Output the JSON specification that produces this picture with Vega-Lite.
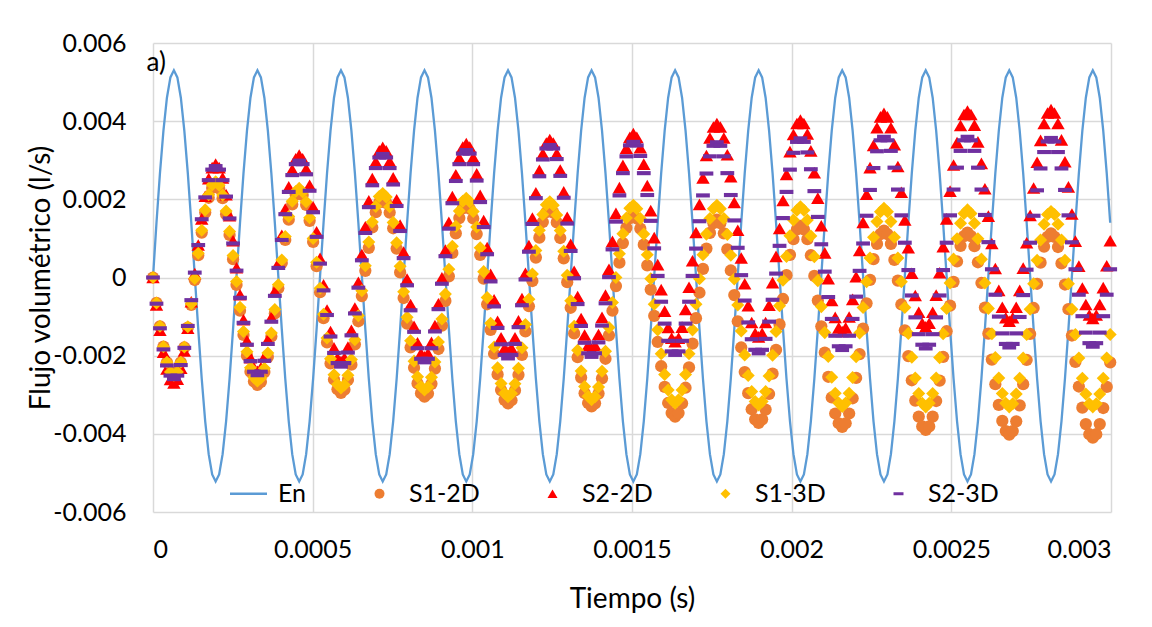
{
"$schema": "https://vega.github.io/schema/vega-lite/v6.json",
"width": 958, "height": 469,
"autosize": {"type": "none"},
"padding": {"left": 153, "top": 43, "right": 41, "bottom": 115},
"background": "white",
"config": {
"locale": {"number": {"decimal": ".", "thousands": ",", "grouping": [3], "currency": ["", ""], "minus": "-"}},
"font": "Lato",
"view": {"stroke": null},
"axis": {"grid": true, "gridColor": "#D9D9D9", "gridWidth": 1.5, "domain": false, "ticks": false, "tickSize": 0, "labelFont": "Lato", "labelFontSize": 25, "labelColor": "#000000", "titleFont": "Lato", "titleFontSize": 28, "titleFontWeight": "normal", "titleColor": "#000000"}
},
"datasets": {"main": [
{"t":0,"e":0,"o":0,"r":0,"y":0,"p":0},
{"t":109e-7,"e":1400e-6,"o":-650e-6,"r":-700e-6,"y":-650e-6,"p":-670e-6},
{"t":218e-7,"e":2670e-6,"o":-1250e-6,"r":-1350e-6,"y":-1250e-6,"p":-1300e-6},
{"t":327e-7,"e":3760e-6,"o":-1770e-6,"r":-1910e-6,"y":-1770e-6,"p":-1840e-6},
{"t":436e-7,"e":4600e-6,"o":-2170e-6,"r":-2340e-6,"y":-2170e-6,"p":-2250e-6},
{"t":545e-7,"e":5120e-6,"o":-2420e-6,"r":-2610e-6,"y":-2420e-6,"p":-2510e-6},
{"t":654e-7,"e":5300e-6,"o":-2500e-6,"r":-2700e-6,"y":-2500e-6,"p":-2600e-6},
{"t":763e-7,"e":5120e-6,"o":-2420e-6,"r":-2600e-6,"y":-2420e-6,"p":-2510e-6},
{"t":872e-7,"e":4600e-6,"o":-2170e-6,"r":-2320e-6,"y":-2170e-6,"p":-2240e-6},
{"t":981e-7,"e":3760e-6,"o":-1790e-6,"r":-1880e-6,"y":-1780e-6,"p":-1800e-6},
{"t":1090e-7,"e":2670e-6,"o":-1280e-6,"r":-1300e-6,"y":-1260e-6,"p":-1240e-6},
{"t":1199e-7,"e":1400e-6,"o":-700e-6,"r":-620e-6,"y":-670e-6,"p":-580e-6},
{"t":1308e-7,"e":40e-6,"o":-65e-6,"r":100e-6,"y":-25e-6,"p":125e-6},
{"t":1417e-7,"e":-1320e-6,"o":570e-6,"r":830e-6,"y":620e-6,"p":830e-6},
{"t":1526e-7,"e":-2590e-6,"o":1150e-6,"r":1500e-6,"y":1210e-6,"p":1490e-6},
{"t":1635e-7,"e":-3680e-6,"o":1660e-6,"r":2080e-6,"y":1730e-6,"p":2050e-6},
{"t":1744e-7,"e":-4520e-6,"o":2040e-6,"r":2530e-6,"y":2120e-6,"p":2490e-6},
{"t":1853e-7,"e":-5040e-6,"o":2290e-6,"r":2810e-6,"y":2370e-6,"p":2760e-6},
{"t":1962e-7,"e":-5220e-6,"o":2370e-6,"r":2900e-6,"y":2450e-6,"p":2850e-6},
{"t":2071e-7,"e":-5040e-6,"o":2280e-6,"r":2810e-6,"y":2360e-6,"p":2760e-6},
{"t":2180e-7,"e":-4520e-6,"o":2030e-6,"r":2550e-6,"y":2110e-6,"p":2490e-6},
{"t":2289e-7,"e":-3680e-6,"o":1620e-6,"r":2120e-6,"y":1700e-6,"p":2070e-6},
{"t":2398e-7,"e":-2590e-6,"o":1090e-6,"r":1580e-6,"y":1180e-6,"p":1510e-6},
{"t":2507e-7,"e":-1320e-6,"o":470e-6,"r":940e-6,"y":560e-6,"p":870e-6},
{"t":2616e-7,"e":40e-6,"o":-190e-6,"r":250e-6,"y":-100e-6,"p":175e-6},
{"t":2725e-7,"e":1400e-6,"o":-850e-6,"r":-440e-6,"y":-760e-6,"p":-520e-6},
{"t":2834e-7,"e":2670e-6,"o":-1470e-6,"r":-1080e-6,"y":-1380e-6,"p":-1160e-6},
{"t":2943e-7,"e":3760e-6,"o":-2000e-6,"r":-1620e-6,"y":-1900e-6,"p":-1720e-6},
{"t":3052e-7,"e":4600e-6,"o":-2410e-6,"r":-2050e-6,"y":-2310e-6,"p":-2140e-6},
{"t":3161e-7,"e":5120e-6,"o":-2660e-6,"r":-2310e-6,"y":-2560e-6,"p":-2410e-6},
{"t":3270e-7,"e":5300e-6,"o":-2750e-6,"r":-2400e-6,"y":-2650e-6,"p":-2500e-6},
{"t":3379e-7,"e":5120e-6,"o":-2670e-6,"r":-2310e-6,"y":-2570e-6,"p":-2410e-6},
{"t":3488e-7,"e":4600e-6,"o":-2420e-6,"r":-2030e-6,"y":-2320e-6,"p":-2130e-6},
{"t":3597e-7,"e":3760e-6,"o":-2030e-6,"r":-1590e-6,"y":-1930e-6,"p":-1700e-6},
{"t":3706e-7,"e":2670e-6,"o":-1510e-6,"r":-1020e-6,"y":-1420e-6,"p":-1130e-6},
{"t":3815e-7,"e":1400e-6,"o":-920e-6,"r":-350e-6,"y":-820e-6,"p":-470e-6},
{"t":3924e-7,"e":40e-6,"o":-275e-6,"r":365e-6,"y":-185e-6,"p":245e-6},
{"t":4033e-7,"e":-1320e-6,"o":370e-6,"r":1080e-6,"y":450e-6,"p":960e-6},
{"t":4142e-7,"e":-2590e-6,"o":960e-6,"r":1750e-6,"y":1050e-6,"p":1620e-6},
{"t":4251e-7,"e":-3680e-6,"o":1480e-6,"r":2320e-6,"y":1560e-6,"p":2190e-6},
{"t":4360e-7,"e":-4520e-6,"o":1870e-6,"r":2760e-6,"y":1950e-6,"p":2620e-6},
{"t":4469e-7,"e":-5040e-6,"o":2120e-6,"r":3040e-6,"y":2200e-6,"p":2900e-6},
{"t":4578e-7,"e":-5220e-6,"o":2200e-6,"r":3130e-6,"y":2280e-6,"p":2990e-6},
{"t":4687e-7,"e":-5040e-6,"o":2110e-6,"r":3040e-6,"y":2190e-6,"p":2900e-6},
{"t":4796e-7,"e":-4520e-6,"o":1860e-6,"r":2780e-6,"y":1940e-6,"p":2640e-6},
{"t":4905e-7,"e":-3680e-6,"o":1450e-6,"r":2360e-6,"y":1530e-6,"p":2220e-6},
{"t":5014e-7,"e":-2590e-6,"o":910e-6,"r":1810e-6,"y":1000e-6,"p":1670e-6},
{"t":5123e-7,"e":-1320e-6,"o":290e-6,"r":1170e-6,"y":390e-6,"p":1040e-6},
{"t":5232e-7,"e":40e-6,"o":-375e-6,"r":490e-6,"y":-275e-6,"p":355e-6},
{"t":5341e-7,"e":1400e-6,"o":-1040e-6,"r":-190e-6,"y":-940e-6,"p":-330e-6},
{"t":5450e-7,"e":2670e-6,"o":-1660e-6,"r":-830e-6,"y":-1550e-6,"p":-960e-6},
{"t":5559e-7,"e":3760e-6,"o":-2200e-6,"r":-1380e-6,"y":-2080e-6,"p":-1510e-6},
{"t":5668e-7,"e":4600e-6,"o":-2610e-6,"r":-1800e-6,"y":-2490e-6,"p":-1930e-6},
{"t":5777e-7,"e":5120e-6,"o":-2860e-6,"r":-2060e-6,"y":-2740e-6,"p":-2190e-6},
{"t":5886e-7,"e":5300e-6,"o":-2950e-6,"r":-2150e-6,"y":-2830e-6,"p":-2280e-6},
{"t":5995e-7,"e":5120e-6,"o":-2870e-6,"r":-2060e-6,"y":-2750e-6,"p":-2190e-6},
{"t":6104e-7,"e":4600e-6,"o":-2620e-6,"r":-1780e-6,"y":-2500e-6,"p":-1920e-6},
{"t":6213e-7,"e":3760e-6,"o":-2230e-6,"r":-1350e-6,"y":-2100e-6,"p":-1480e-6},
{"t":6322e-7,"e":2670e-6,"o":-1710e-6,"r":-780e-6,"y":-1590e-6,"p":-920e-6},
{"t":6431e-7,"e":1400e-6,"o":-1120e-6,"r":-120e-6,"y":-980e-6,"p":-260e-6},
{"t":6540e-7,"e":40e-6,"o":-475e-6,"r":590e-6,"y":-340e-6,"p":440e-6},
{"t":6649e-7,"e":-1320e-6,"o":170e-6,"r":1300e-6,"y":300e-6,"p":1140e-6},
{"t":6758e-7,"e":-2590e-6,"o":760e-6,"r":1960e-6,"y":910e-6,"p":1800e-6},
{"t":6867e-7,"e":-3680e-6,"o":1280e-6,"r":2530e-6,"y":1420e-6,"p":2360e-6},
{"t":6976e-7,"e":-4520e-6,"o":1670e-6,"r":2960e-6,"y":1820e-6,"p":2800e-6},
{"t":7085e-7,"e":-5040e-6,"o":1920e-6,"r":3240e-6,"y":2070e-6,"p":3070e-6},
{"t":7194e-7,"e":-5220e-6,"o":2000e-6,"r":3330e-6,"y":2150e-6,"p":3160e-6},
{"t":7303e-7,"e":-5040e-6,"o":1910e-6,"r":3240e-6,"y":2060e-6,"p":3070e-6},
{"t":7412e-7,"e":-4520e-6,"o":1660e-6,"r":2970e-6,"y":1810e-6,"p":2800e-6},
{"t":7521e-7,"e":-3680e-6,"o":1260e-6,"r":2550e-6,"y":1410e-6,"p":2380e-6},
{"t":7630e-7,"e":-2590e-6,"o":740e-6,"r":1990e-6,"y":890e-6,"p":1830e-6},
{"t":7739e-7,"e":-1320e-6,"o":130e-6,"r":1340e-6,"y":290e-6,"p":1190e-6},
{"t":7848e-7,"e":40e-6,"o":-525e-6,"r":650e-6,"y":-365e-6,"p":495e-6},
{"t":7957e-7,"e":1400e-6,"o":-1180e-6,"r":-40e-6,"y":-1020e-6,"p":-200e-6},
{"t":8066e-7,"e":2670e-6,"o":-1790e-6,"r":-690e-6,"y":-1620e-6,"p":-840e-6},
{"t":8175e-7,"e":3760e-6,"o":-2310e-6,"r":-1250e-6,"y":-2140e-6,"p":-1390e-6},
{"t":8284e-7,"e":4600e-6,"o":-2710e-6,"r":-1670e-6,"y":-2540e-6,"p":-1810e-6},
{"t":8393e-7,"e":5120e-6,"o":-2960e-6,"r":-1940e-6,"y":-2790e-6,"p":-2080e-6},
{"t":8502e-7,"e":5300e-6,"o":-3050e-6,"r":-2030e-6,"y":-2880e-6,"p":-2170e-6},
{"t":8611e-7,"e":5120e-6,"o":-2970e-6,"r":-1940e-6,"y":-2800e-6,"p":-2080e-6},
{"t":8720e-7,"e":4600e-6,"o":-2720e-6,"r":-1660e-6,"y":-2550e-6,"p":-1810e-6},
{"t":8829e-7,"e":3760e-6,"o":-2330e-6,"r":-1230e-6,"y":-2160e-6,"p":-1380e-6},
{"t":8938e-7,"e":2670e-6,"o":-1830e-6,"r":-670e-6,"y":-1650e-6,"p":-810e-6},
{"t":9047e-7,"e":1400e-6,"o":-1230e-6,"r":-10e-6,"y":-1060e-6,"p":-160e-6},
{"t":9156e-7,"e":40e-6,"o":-600e-6,"r":700e-6,"y":-425e-6,"p":545e-6},
{"t":9265e-7,"e":-1320e-6,"o":30e-6,"r":1410e-6,"y":210e-6,"p":1250e-6},
{"t":9374e-7,"e":-2590e-6,"o":630e-6,"r":2070e-6,"y":800e-6,"p":1900e-6},
{"t":9483e-7,"e":-3680e-6,"o":1130e-6,"r":2630e-6,"y":1310e-6,"p":2470e-6},
{"t":9592e-7,"e":-4520e-6,"o":1520e-6,"r":3060e-6,"y":1700e-6,"p":2900e-6},
{"t":9701e-7,"e":-5040e-6,"o":1770e-6,"r":3340e-6,"y":1950e-6,"p":3170e-6},
{"t":9810e-7,"e":-5220e-6,"o":1850e-6,"r":3430e-6,"y":2030e-6,"p":3260e-6},
{"t":9919e-7,"e":-5040e-6,"o":1760e-6,"r":3340e-6,"y":1940e-6,"p":3170e-6},
{"t":10028e-7,"e":-4520e-6,"o":1510e-6,"r":3070e-6,"y":1690e-6,"p":2900e-6},
{"t":10137e-7,"e":-3680e-6,"o":1110e-6,"r":2650e-6,"y":1290e-6,"p":2480e-6},
{"t":10246e-7,"e":-2590e-6,"o":580e-6,"r":2100e-6,"y":760e-6,"p":1930e-6},
{"t":10355e-7,"e":-1320e-6,"o":-30e-6,"r":1460e-6,"y":150e-6,"p":1290e-6},
{"t":10464e-7,"e":40e-6,"o":-685e-6,"r":765e-6,"y":-510e-6,"p":595e-6},
{"t":10573e-7,"e":1400e-6,"o":-1340e-6,"r":80e-6,"y":-1170e-6,"p":-100e-6},
{"t":10682e-7,"e":2670e-6,"o":-1950e-6,"r":-570e-6,"y":-1780e-6,"p":-740e-6},
{"t":10791e-7,"e":3760e-6,"o":-2480e-6,"r":-1120e-6,"y":-2310e-6,"p":-1290e-6},
{"t":10900e-7,"e":4600e-6,"o":-2880e-6,"r":-1540e-6,"y":-2710e-6,"p":-1710e-6},
{"t":11009e-7,"e":5120e-6,"o":-3130e-6,"r":-1810e-6,"y":-2960e-6,"p":-1980e-6},
{"t":11118e-7,"e":5300e-6,"o":-3220e-6,"r":-1900e-6,"y":-3050e-6,"p":-2070e-6},
{"t":11227e-7,"e":5120e-6,"o":-3140e-6,"r":-1810e-6,"y":-2970e-6,"p":-1980e-6},
{"t":11336e-7,"e":4600e-6,"o":-2890e-6,"r":-1540e-6,"y":-2720e-6,"p":-1700e-6},
{"t":11445e-7,"e":3760e-6,"o":-2490e-6,"r":-1110e-6,"y":-2320e-6,"p":-1270e-6},
{"t":11554e-7,"e":2670e-6,"o":-1980e-6,"r":-540e-6,"y":-1800e-6,"p":-710e-6},
{"t":11663e-7,"e":1400e-6,"o":-1380e-6,"r":110e-6,"y":-1200e-6,"p":-50e-6},
{"t":11772e-7,"e":40e-6,"o":-735e-6,"r":815e-6,"y":-555e-6,"p":660e-6},
{"t":11881e-7,"e":-1320e-6,"o":-90e-6,"r":1520e-6,"y":90e-6,"p":1370e-6},
{"t":11990e-7,"e":-2590e-6,"o":510e-6,"r":2170e-6,"y":690e-6,"p":2030e-6},
{"t":12099e-7,"e":-3680e-6,"o":1020e-6,"r":2740e-6,"y":1210e-6,"p":2590e-6},
{"t":12208e-7,"e":-4520e-6,"o":1420e-6,"r":3170e-6,"y":1610e-6,"p":3020e-6},
{"t":12317e-7,"e":-5040e-6,"o":1670e-6,"r":3440e-6,"y":1860e-6,"p":3300e-6},
{"t":12426e-7,"e":-5220e-6,"o":1750e-6,"r":3530e-6,"y":1940e-6,"p":3390e-6},
{"t":12535e-7,"e":-5040e-6,"o":1660e-6,"r":3440e-6,"y":1850e-6,"p":3300e-6},
{"t":12644e-7,"e":-4520e-6,"o":1410e-6,"r":3170e-6,"y":1600e-6,"p":3030e-6},
{"t":12753e-7,"e":-3680e-6,"o":1010e-6,"r":2750e-6,"y":1200e-6,"p":2600e-6},
{"t":12862e-7,"e":-2590e-6,"o":490e-6,"r":2190e-6,"y":670e-6,"p":2040e-6},
{"t":12971e-7,"e":-1320e-6,"o":-120e-6,"r":1540e-6,"y":60e-6,"p":1380e-6},
{"t":13080e-7,"e":40e-6,"o":-775e-6,"r":850e-6,"y":-595e-6,"p":680e-6},
{"t":13189e-7,"e":1400e-6,"o":-1430e-6,"r":160e-6,"y":-1250e-6,"p":-20e-6},
{"t":13298e-7,"e":2670e-6,"o":-2040e-6,"r":-490e-6,"y":-1860e-6,"p":-680e-6},
{"t":13407e-7,"e":3760e-6,"o":-2560e-6,"r":-1050e-6,"y":-2390e-6,"p":-1240e-6},
{"t":13516e-7,"e":4600e-6,"o":-2960e-6,"r":-1470e-6,"y":-2790e-6,"p":-1670e-6},
{"t":13625e-7,"e":5120e-6,"o":-3210e-6,"r":-1740e-6,"y":-3040e-6,"p":-1940e-6},
{"t":13734e-7,"e":5300e-6,"o":-3300e-6,"r":-1830e-6,"y":-3130e-6,"p":-2030e-6},
{"t":13843e-7,"e":5120e-6,"o":-3220e-6,"r":-1740e-6,"y":-3050e-6,"p":-1940e-6},
{"t":13952e-7,"e":4600e-6,"o":-2970e-6,"r":-1460e-6,"y":-2800e-6,"p":-1660e-6},
{"t":14061e-7,"e":3760e-6,"o":-2580e-6,"r":-1020e-6,"y":-2400e-6,"p":-1230e-6},
{"t":14170e-7,"e":2670e-6,"o":-2080e-6,"r":-450e-6,"y":-1890e-6,"p":-660e-6},
{"t":14279e-7,"e":1400e-6,"o":-1480e-6,"r":210e-6,"y":-1280e-6,"p":10e-6},
{"t":14388e-7,"e":40e-6,"o":-850e-6,"r":925e-6,"y":-640e-6,"p":720e-6},
{"t":14497e-7,"e":-1320e-6,"o":-220e-6,"r":1640e-6,"y":0,"p":1430e-6},
{"t":14606e-7,"e":-2590e-6,"o":380e-6,"r":2300e-6,"y":610e-6,"p":2100e-6},
{"t":14715e-7,"e":-3680e-6,"o":880e-6,"r":2870e-6,"y":1120e-6,"p":2670e-6},
{"t":14824e-7,"e":-4520e-6,"o":1270e-6,"r":3310e-6,"y":1520e-6,"p":3100e-6},
{"t":14933e-7,"e":-5040e-6,"o":1520e-6,"r":3590e-6,"y":1770e-6,"p":3380e-6},
{"t":15042e-7,"e":-5220e-6,"o":1600e-6,"r":3680e-6,"y":1850e-6,"p":3470e-6},
{"t":15151e-7,"e":-5040e-6,"o":1510e-6,"r":3590e-6,"y":1760e-6,"p":3380e-6},
{"t":15260e-7,"e":-4520e-6,"o":1250e-6,"r":3320e-6,"y":1510e-6,"p":3110e-6},
{"t":15369e-7,"e":-3680e-6,"o":840e-6,"r":2900e-6,"y":1110e-6,"p":2670e-6},
{"t":15478e-7,"e":-2590e-6,"o":310e-6,"r":2350e-6,"y":580e-6,"p":2110e-6},
{"t":15587e-7,"e":-1320e-6,"o":-310e-6,"r":1710e-6,"y":-30e-6,"p":1450e-6},
{"t":15696e-7,"e":40e-6,"o":-980e-6,"r":1020e-6,"y":-685e-6,"p":745e-6},
{"t":15805e-7,"e":1400e-6,"o":-1650e-6,"r":330e-6,"y":-1340e-6,"p":40e-6},
{"t":15914e-7,"e":2670e-6,"o":-2270e-6,"r":-310e-6,"y":-1950e-6,"p":-620e-6},
{"t":16023e-7,"e":3760e-6,"o":-2800e-6,"r":-860e-6,"y":-2480e-6,"p":-1180e-6},
{"t":16132e-7,"e":4600e-6,"o":-3210e-6,"r":-1280e-6,"y":-2880e-6,"p":-1620e-6},
{"t":16241e-7,"e":5120e-6,"o":-3470e-6,"r":-1550e-6,"y":-3130e-6,"p":-1890e-6},
{"t":16350e-7,"e":5300e-6,"o":-3560e-6,"r":-1640e-6,"y":-3220e-6,"p":-1980e-6},
{"t":16459e-7,"e":5120e-6,"o":-3470e-6,"r":-1550e-6,"y":-3130e-6,"p":-1890e-6},
{"t":16568e-7,"e":4600e-6,"o":-3220e-6,"r":-1270e-6,"y":-2880e-6,"p":-1620e-6},
{"t":16677e-7,"e":3760e-6,"o":-2820e-6,"r":-820e-6,"y":-2480e-6,"p":-1180e-6},
{"t":16786e-7,"e":2670e-6,"o":-2300e-6,"r":-250e-6,"y":-1950e-6,"p":-620e-6},
{"t":16895e-7,"e":1400e-6,"o":-1690e-6,"r":430e-6,"y":-1340e-6,"p":40e-6},
{"t":17004e-7,"e":40e-6,"o":-1040e-6,"r":1150e-6,"y":-685e-6,"p":740e-6},
{"t":17113e-7,"e":-1320e-6,"o":-390e-6,"r":1870e-6,"y":-30e-6,"p":1440e-6},
{"t":17222e-7,"e":-2590e-6,"o":220e-6,"r":2550e-6,"y":580e-6,"p":2100e-6},
{"t":17331e-7,"e":-3680e-6,"o":740e-6,"r":3120e-6,"y":1110e-6,"p":2660e-6},
{"t":17440e-7,"e":-4520e-6,"o":1140e-6,"r":3570e-6,"y":1510e-6,"p":3100e-6},
{"t":17549e-7,"e":-5040e-6,"o":1390e-6,"r":3850e-6,"y":1760e-6,"p":3370e-6},
{"t":17658e-7,"e":-5220e-6,"o":1480e-6,"r":3940e-6,"y":1850e-6,"p":3460e-6},
{"t":17767e-7,"e":-5040e-6,"o":1390e-6,"r":3850e-6,"y":1760e-6,"p":3370e-6},
{"t":17876e-7,"e":-4520e-6,"o":1130e-6,"r":3570e-6,"y":1510e-6,"p":3100e-6},
{"t":17985e-7,"e":-3680e-6,"o":720e-6,"r":3140e-6,"y":1100e-6,"p":2670e-6},
{"t":18094e-7,"e":-2590e-6,"o":180e-6,"r":2580e-6,"y":570e-6,"p":2110e-6},
{"t":18203e-7,"e":-1320e-6,"o":-450e-6,"r":1920e-6,"y":-40e-6,"p":1460e-6},
{"t":18312e-7,"e":40e-6,"o":-1120e-6,"r":1210e-6,"y":-705e-6,"p":760e-6},
{"t":18421e-7,"e":1400e-6,"o":-1790e-6,"r":500e-6,"y":-1370e-6,"p":60e-6},
{"t":18530e-7,"e":2670e-6,"o":-2420e-6,"r":-160e-6,"y":-1980e-6,"p":-590e-6},
{"t":18639e-7,"e":3760e-6,"o":-2960e-6,"r":-720e-6,"y":-2510e-6,"p":-1150e-6},
{"t":18748e-7,"e":4600e-6,"o":-3370e-6,"r":-1150e-6,"y":-2920e-6,"p":-1580e-6},
{"t":18857e-7,"e":5120e-6,"o":-3630e-6,"r":-1430e-6,"y":-3170e-6,"p":-1850e-6},
{"t":18966e-7,"e":5300e-6,"o":-3720e-6,"r":-1520e-6,"y":-3260e-6,"p":-1940e-6},
{"t":19075e-7,"e":5120e-6,"o":-3630e-6,"r":-1430e-6,"y":-3170e-6,"p":-1850e-6},
{"t":19184e-7,"e":4600e-6,"o":-3380e-6,"r":-1150e-6,"y":-2920e-6,"p":-1570e-6},
{"t":19293e-7,"e":3760e-6,"o":-2980e-6,"r":-710e-6,"y":-2520e-6,"p":-1130e-6},
{"t":19402e-7,"e":2670e-6,"o":-2460e-6,"r":-130e-6,"y":-1990e-6,"p":-570e-6},
{"t":19511e-7,"e":1400e-6,"o":-1850e-6,"r":540e-6,"y":-1380e-6,"p":100e-6},
{"t":19620e-7,"e":40e-6,"o":-1200e-6,"r":1255e-6,"y":-725e-6,"p":810e-6},
{"t":19729e-7,"e":-1320e-6,"o":-550e-6,"r":1970e-6,"y":-70e-6,"p":1520e-6},
{"t":19838e-7,"e":-2590e-6,"o":60e-6,"r":2640e-6,"y":540e-6,"p":2190e-6},
{"t":19947e-7,"e":-3680e-6,"o":580e-6,"r":3220e-6,"y":1070e-6,"p":2760e-6},
{"t":20056e-7,"e":-4520e-6,"o":980e-6,"r":3660e-6,"y":1470e-6,"p":3190e-6},
{"t":20165e-7,"e":-5040e-6,"o":1230e-6,"r":3940e-6,"y":1720e-6,"p":3470e-6},
{"t":20274e-7,"e":-5220e-6,"o":1320e-6,"r":4030e-6,"y":1810e-6,"p":3560e-6},
{"t":20383e-7,"e":-5040e-6,"o":1230e-6,"r":3940e-6,"y":1720e-6,"p":3470e-6},
{"t":20492e-7,"e":-4520e-6,"o":980e-6,"r":3670e-6,"y":1470e-6,"p":3200e-6},
{"t":20601e-7,"e":-3680e-6,"o":570e-6,"r":3240e-6,"y":1060e-6,"p":2770e-6},
{"t":20710e-7,"e":-2590e-6,"o":40e-6,"r":2680e-6,"y":530e-6,"p":2210e-6},
{"t":20819e-7,"e":-1320e-6,"o":-590e-6,"r":2030e-6,"y":-80e-6,"p":1550e-6},
{"t":20928e-7,"e":40e-6,"o":-1250e-6,"r":1325e-6,"y":-745e-6,"p":850e-6},
{"t":21037e-7,"e":1400e-6,"o":-1920e-6,"r":630e-6,"y":-1410e-6,"p":150e-6},
{"t":21146e-7,"e":2670e-6,"o":-2540e-6,"r":-30e-6,"y":-2020e-6,"p":-500e-6},
{"t":21255e-7,"e":3760e-6,"o":-3070e-6,"r":-590e-6,"y":-2550e-6,"p":-1060e-6},
{"t":21364e-7,"e":4600e-6,"o":-3480e-6,"r":-1020e-6,"y":-2960e-6,"p":-1490e-6},
{"t":21473e-7,"e":5120e-6,"o":-3730e-6,"r":-1290e-6,"y":-3210e-6,"p":-1760e-6},
{"t":21582e-7,"e":5300e-6,"o":-3820e-6,"r":-1380e-6,"y":-3300e-6,"p":-1855e-6},
{"t":21691e-7,"e":5120e-6,"o":-3730e-6,"r":-1290e-6,"y":-3210e-6,"p":-1760e-6},
{"t":21800e-7,"e":4600e-6,"o":-3480e-6,"r":-1010e-6,"y":-2960e-6,"p":-1490e-6},
{"t":21909e-7,"e":3760e-6,"o":-3090e-6,"r":-560e-6,"y":-2560e-6,"p":-1060e-6},
{"t":22018e-7,"e":2670e-6,"o":-2570e-6,"r":20e-6,"y":-2030e-6,"p":-490e-6},
{"t":22127e-7,"e":1400e-6,"o":-1960e-6,"r":690e-6,"y":-1420e-6,"p":170e-6},
{"t":22236e-7,"e":40e-6,"o":-1310e-6,"r":1410e-6,"y":-765e-6,"p":870e-6},
{"t":22345e-7,"e":-1320e-6,"o":-660e-6,"r":2130e-6,"y":-110e-6,"p":1580e-6},
{"t":22454e-7,"e":-2590e-6,"o":-60e-6,"r":2810e-6,"y":500e-6,"p":2240e-6},
{"t":22563e-7,"e":-3680e-6,"o":470e-6,"r":3380e-6,"y":1030e-6,"p":2800e-6},
{"t":22672e-7,"e":-4520e-6,"o":860e-6,"r":3830e-6,"y":1430e-6,"p":3230e-6},
{"t":22781e-7,"e":-5040e-6,"o":1110e-6,"r":4110e-6,"y":1680e-6,"p":3510e-6},
{"t":22890e-7,"e":-5220e-6,"o":1200e-6,"r":4200e-6,"y":1770e-6,"p":3600e-6},
{"t":22999e-7,"e":-5040e-6,"o":1110e-6,"r":4110e-6,"y":1680e-6,"p":3510e-6},
{"t":23108e-7,"e":-4520e-6,"o":860e-6,"r":3830e-6,"y":1430e-6,"p":3240e-6},
{"t":23217e-7,"e":-3680e-6,"o":450e-6,"r":3400e-6,"y":1030e-6,"p":2810e-6},
{"t":23326e-7,"e":-2590e-6,"o":-80e-6,"r":2840e-6,"y":500e-6,"p":2250e-6},
{"t":23435e-7,"e":-1320e-6,"o":-690e-6,"r":2180e-6,"y":-110e-6,"p":1590e-6},
{"t":23544e-7,"e":40e-6,"o":-1350e-6,"r":1470e-6,"y":-770e-6,"p":890e-6},
{"t":23653e-7,"e":1400e-6,"o":-2010e-6,"r":760e-6,"y":-1430e-6,"p":190e-6},
{"t":23762e-7,"e":2670e-6,"o":-2630e-6,"r":110e-6,"y":-2040e-6,"p":-460e-6},
{"t":23871e-7,"e":3760e-6,"o":-3150e-6,"r":-460e-6,"y":-2570e-6,"p":-1020e-6},
{"t":23980e-7,"e":4600e-6,"o":-3560e-6,"r":-890e-6,"y":-2970e-6,"p":-1450e-6},
{"t":24089e-7,"e":5120e-6,"o":-3810e-6,"r":-1170e-6,"y":-3220e-6,"p":-1720e-6},
{"t":24198e-7,"e":5300e-6,"o":-3900e-6,"r":-1260e-6,"y":-3310e-6,"p":-1815e-6},
{"t":24307e-7,"e":5120e-6,"o":-3810e-6,"r":-1170e-6,"y":-3220e-6,"p":-1720e-6},
{"t":24416e-7,"e":4600e-6,"o":-3560e-6,"r":-890e-6,"y":-2970e-6,"p":-1450e-6},
{"t":24525e-7,"e":3760e-6,"o":-3160e-6,"r":-450e-6,"y":-2570e-6,"p":-1020e-6},
{"t":24634e-7,"e":2670e-6,"o":-2640e-6,"r":120e-6,"y":-2050e-6,"p":-460e-6},
{"t":24743e-7,"e":1400e-6,"o":-2030e-6,"r":790e-6,"y":-1440e-6,"p":190e-6},
{"t":24852e-7,"e":40e-6,"o":-1375e-6,"r":1500e-6,"y":-790e-6,"p":890e-6},
{"t":24961e-7,"e":-1320e-6,"o":-720e-6,"r":2210e-6,"y":-140e-6,"p":1590e-6},
{"t":25070e-7,"e":-2590e-6,"o":-110e-6,"r":2880e-6,"y":470e-6,"p":2250e-6},
{"t":25179e-7,"e":-3680e-6,"o":410e-6,"r":3450e-6,"y":990e-6,"p":2810e-6},
{"t":25288e-7,"e":-4520e-6,"o":810e-6,"r":3890e-6,"y":1390e-6,"p":3240e-6},
{"t":25397e-7,"e":-5040e-6,"o":1060e-6,"r":4170e-6,"y":1640e-6,"p":3510e-6},
{"t":25506e-7,"e":-5220e-6,"o":1150e-6,"r":4260e-6,"y":1730e-6,"p":3600e-6},
{"t":25615e-7,"e":-5040e-6,"o":1060e-6,"r":4170e-6,"y":1640e-6,"p":3510e-6},
{"t":25724e-7,"e":-4520e-6,"o":800e-6,"r":3900e-6,"y":1390e-6,"p":3240e-6},
{"t":25833e-7,"e":-3680e-6,"o":390e-6,"r":3470e-6,"y":990e-6,"p":2810e-6},
{"t":25942e-7,"e":-2590e-6,"o":-140e-6,"r":2920e-6,"y":470e-6,"p":2250e-6},
{"t":26051e-7,"e":-1320e-6,"o":-770e-6,"r":2270e-6,"y":-140e-6,"p":1600e-6},
{"t":26160e-7,"e":40e-6,"o":-1435e-6,"r":1570e-6,"y":-790e-6,"p":905e-6},
{"t":26269e-7,"e":1400e-6,"o":-2100e-6,"r":870e-6,"y":-1440e-6,"p":210e-6},
{"t":26378e-7,"e":2670e-6,"o":-2730e-6,"r":230e-6,"y":-2050e-6,"p":-440e-6},
{"t":26487e-7,"e":3760e-6,"o":-3260e-6,"r":-330e-6,"y":-2570e-6,"p":-1000e-6},
{"t":26596e-7,"e":4600e-6,"o":-3670e-6,"r":-760e-6,"y":-2970e-6,"p":-1430e-6},
{"t":26705e-7,"e":5120e-6,"o":-3930e-6,"r":-1030e-6,"y":-3220e-6,"p":-1700e-6},
{"t":26814e-7,"e":5300e-6,"o":-4020e-6,"r":-1120e-6,"y":-3310e-6,"p":-1790e-6},
{"t":26923e-7,"e":5120e-6,"o":-3930e-6,"r":-1030e-6,"y":-3230e-6,"p":-1700e-6},
{"t":27032e-7,"e":4600e-6,"o":-3680e-6,"r":-760e-6,"y":-2980e-6,"p":-1430e-6},
{"t":27141e-7,"e":3760e-6,"o":-3270e-6,"r":-330e-6,"y":-2580e-6,"p":-1010e-6},
{"t":27250e-7,"e":2670e-6,"o":-2730e-6,"r":240e-6,"y":-2060e-6,"p":-450e-6},
{"t":27359e-7,"e":1400e-6,"o":-2110e-6,"r":890e-6,"y":-1460e-6,"p":200e-6},
{"t":27468e-7,"e":40e-6,"o":-1445e-6,"r":1590e-6,"y":-810e-6,"p":890e-6},
{"t":27577e-7,"e":-1320e-6,"o":-780e-6,"r":2290e-6,"y":-160e-6,"p":1580e-6},
{"t":27686e-7,"e":-2590e-6,"o":-160e-6,"r":2950e-6,"y":440e-6,"p":2230e-6},
{"t":27795e-7,"e":-3680e-6,"o":380e-6,"r":3510e-6,"y":960e-6,"p":2790e-6},
{"t":27904e-7,"e":-4520e-6,"o":790e-6,"r":3940e-6,"y":1360e-6,"p":3210e-6},
{"t":28013e-7,"e":-5040e-6,"o":1040e-6,"r":4210e-6,"y":1610e-6,"p":3480e-6},
{"t":28122e-7,"e":-5220e-6,"o":1130e-6,"r":4300e-6,"y":1690e-6,"p":3570e-6},
{"t":28231e-7,"e":-5040e-6,"o":1040e-6,"r":4210e-6,"y":1610e-6,"p":3480e-6},
{"t":28340e-7,"e":-4520e-6,"o":780e-6,"r":3940e-6,"y":1360e-6,"p":3210e-6},
{"t":28449e-7,"e":-3680e-6,"o":360e-6,"r":3520e-6,"y":960e-6,"p":2790e-6},
{"t":28558e-7,"e":-2590e-6,"o":-180e-6,"r":2960e-6,"y":440e-6,"p":2240e-6},
{"t":28667e-7,"e":-1320e-6,"o":-810e-6,"r":2320e-6,"y":-160e-6,"p":1590e-6},
{"t":28776e-7,"e":40e-6,"o":-1485e-6,"r":1625e-6,"y":-810e-6,"p":900e-6},
{"t":28885e-7,"e":1400e-6,"o":-2160e-6,"r":930e-6,"y":-1460e-6,"p":210e-6},
{"t":28994e-7,"e":2670e-6,"o":-2790e-6,"r":290e-6,"y":-2060e-6,"p":-440e-6},
{"t":29103e-7,"e":3760e-6,"o":-3330e-6,"r":-270e-6,"y":-2580e-6,"p":-990e-6},
{"t":29212e-7,"e":4600e-6,"o":-3750e-6,"r":-690e-6,"y":-2980e-6,"p":-1410e-6},
{"t":29321e-7,"e":5120e-6,"o":-4010e-6,"r":-960e-6,"y":-3230e-6,"p":-1680e-6},
{"t":29430e-7,"e":5300e-6,"o":-4100e-6,"r":-1050e-6,"y":-3310e-6,"p":-1770e-6},
{"t":29539e-7,"e":5120e-6,"o":-4010e-6,"r":-960e-6,"y":-3230e-6,"p":-1680e-6},
{"t":29648e-7,"e":4600e-6,"o":-3750e-6,"r":-690e-6,"y":-2980e-6,"p":-1410e-6},
{"t":29757e-7,"e":3760e-6,"o":-3340e-6,"r":-260e-6,"y":-2580e-6,"p":-990e-6},
{"t":29866e-7,"e":2670e-6,"o":-2800e-6,"r":300e-6,"y":-2060e-6,"p":-440e-6},
{"t":29975e-7,"e":1400e-6,"o":-2170e-6,"r":940e-6,"y":-1460e-6,"p":210e-6}
],
"note": [{"t": 0.00001, "v": 0.0055, "label": "a)"}]
},
"data": {"name": "main"},
"encoding": {
"x": {"field": "t", "type": "quantitative", "title": "Tiempo (s)", "scale": {"domain": [0, 0.003], "nice": false, "zero": false},
"axis": {"title": "Tiempo (s)", "values": [0, 0.0005, 0.001, 0.0015, 0.002, 0.0025, 0.003], "format": "~g", "labelPadding": 25, "titlePadding": 23}}
},
"layer": [
{"mark": {"type": "line", "color": "#5B9BD5", "strokeWidth": 2.3},
"encoding": {"y": {"field": "e", "type": "quantitative", "title": "Flujo volumétrico (l/s)", "scale": {"domain": [-0.006, 0.006], "nice": false, "zero": false},
"axis": {"title": "Flujo volumétrico (l/s)", "values": [-0.006, -0.004, -0.002, 0, 0.002, 0.004, 0.006], "format": "~g", "labelPadding": 27, "titlePadding": -3}}}},
{"mark": {"type": "point", "filled": true, "opacity": 1, "size": 150, "strokeWidth": 0},
"encoding": {"y": {"field": "o", "type": "quantitative", "title": "Flujo volumétrico (l/s)", "axis": {"title": "Flujo volumétrico (l/s)", "values": [-0.006, -0.004, -0.002, 0, 0.002, 0.004, 0.006], "format": "~g", "labelPadding": 27, "titlePadding": -3}},
"color": {"datum": "S1-2D", "type": "nominal", "scale": {"domain": ["En", "S1-2D", "S2-2D", "S1-3D", "S2-3D"], "range": ["#5B9BD5", "#ED7D31", "#FF0000", "#FFC000", "#7030A0"]},
"legend": {"title": null, "orient": "none", "legendX": 83, "legendY": 438, "direction": "horizontal", "columns": 5, "symbolSize": 100, "symbolStrokeWidth": 0, "symbolOpacity": 1, "labelFont": "Lato", "labelFontSize": 25, "labelColor": "#000000", "labelOffset": 17, "columnPadding": 60, "padding": 0, "rowPadding": 0}},
"shape": {"datum": "S1-2D", "type": "nominal", "scale": {"domain": ["En", "S1-2D", "S2-2D", "S1-3D", "S2-3D"], "range": ["M-3.7,-0.23H3.7V0.23H-3.7Z", "circle", "triangle-up", "diamond", "M-1,-0.3H1V0.3H-1Z"]},
"legend": {"title": null, "orient": "none", "legendX": 83, "legendY": 438, "direction": "horizontal", "columns": 5, "symbolSize": 100, "symbolStrokeWidth": 0, "symbolOpacity": 1, "labelFont": "Lato", "labelFontSize": 25, "labelColor": "#000000", "labelOffset": 17, "columnPadding": 60, "padding": 0, "rowPadding": 0}}}},
{"mark": {"type": "point", "filled": true, "opacity": 1, "size": 180, "strokeWidth": 0},
"encoding": {"y": {"field": "r", "type": "quantitative", "title": "Flujo volumétrico (l/s)", "axis": {"title": "Flujo volumétrico (l/s)", "values": [-0.006, -0.004, -0.002, 0, 0.002, 0.004, 0.006], "format": "~g", "labelPadding": 27, "titlePadding": -3}},
"color": {"datum": "S2-2D", "type": "nominal"}, "shape": {"datum": "S2-2D", "type": "nominal"}}},
{"mark": {"type": "point", "filled": true, "opacity": 1, "size": 170, "strokeWidth": 0},
"encoding": {"y": {"field": "y", "type": "quantitative", "title": "Flujo volumétrico (l/s)", "axis": {"title": "Flujo volumétrico (l/s)", "values": [-0.006, -0.004, -0.002, 0, 0.002, 0.004, 0.006], "format": "~g", "labelPadding": 27, "titlePadding": -3}},
"color": {"datum": "S1-3D", "type": "nominal"}, "shape": {"datum": "S1-3D", "type": "nominal"}}},
{"mark": {"type": "point", "filled": true, "opacity": 1, "size": 190, "strokeWidth": 0},
"encoding": {"y": {"field": "p", "type": "quantitative", "title": "Flujo volumétrico (l/s)", "axis": {"title": "Flujo volumétrico (l/s)", "values": [-0.006, -0.004, -0.002, 0, 0.002, 0.004, 0.006], "format": "~g", "labelPadding": 27, "titlePadding": -3}},
"color": {"datum": "S2-3D", "type": "nominal"}, "shape": {"datum": "S2-3D", "type": "nominal"}}},
{"data": {"name": "note"},
"mark": {"type": "text", "font": "Lato", "fontSize": 26, "align": "center", "baseline": "middle", "color": "#000000"},
"encoding": {"y": {"field": "v", "type": "quantitative", "title": "Flujo volumétrico (l/s)", "axis": {"title": "Flujo volumétrico (l/s)", "values": [-0.006, -0.004, -0.002, 0, 0.002, 0.004, 0.006], "format": "~g", "labelPadding": 27, "titlePadding": -3}},
"text": {"field": "label", "type": "nominal"}}}
]
}
